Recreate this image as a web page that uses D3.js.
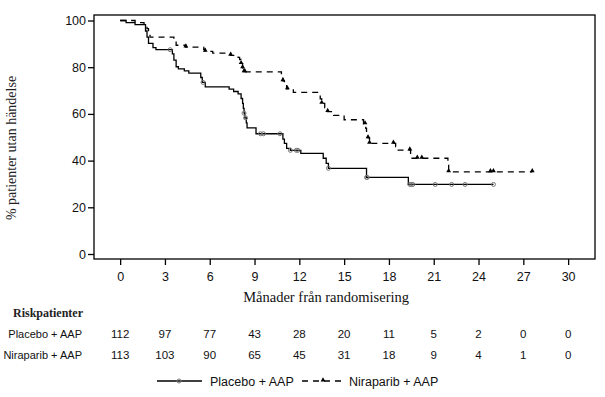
<!DOCTYPE html>
<html><head><meta charset="utf-8">
<script src="https://cdn.jsdelivr.net/npm/d3@7"></script>
<style>body{margin:0;background:#fff}svg{display:block}</style>
</head><body>
<svg id="c" width="605" height="397"></svg>
<script>
const xTicks = [0,3,6,9,12,15,18,21,24,27,30];
const xTickLabels = ["0","3","6","9","12","15","18","21","24","27","30"];
const yTicks = [0,20,40,60,80,100];
const yTickLabels = ["0","20","40","60","80","100"];

const placeboTimes = [0,0.4,1.0,1.7,1.8,1.9,2.2,2.4,3.5,3.6,3.75,3.9,4.3,4.6,5.4,5.5,5.7,7.3,7.6,7.9,8.1,8.2,8.25,8.3,8.35,8.45,8.5,9.1,10.9,11.0,11.15,11.4,12.1,13.6,13.8,13.95,16.5,19.3];
const placeboSurv  = [100,99.1,98.2,95.5,92.9,90.2,88.4,87.5,85.7,83.0,80.2,79.3,78.4,77.5,75.6,73.5,71.6,70.6,69.6,68.6,66.6,64.5,62.4,60.3,58.3,56.2,54.0,51.5,49.2,47.4,45.2,44.4,43.1,41.0,38.8,36.7,32.8,29.8];
const placeboEnd = 25.0;
const placeboCensor = [3.35,5.55,8.3,8.4,9.4,9.6,10.7,11.4,11.8,11.9,13.95,16.5,16.55,19.4,19.5,19.6,21.1,22.2,23.1,25.0];

const niraTimes = [0,1.0,1.6,1.8,1.9,2.0,3.6,3.75,4.4,5.6,5.7,6.2,7.4,7.9,8.0,8.1,8.2,8.3,10.8,10.9,11.0,11.15,11.6,13.3,13.4,13.5,13.7,13.9,14.3,15.0,16.3,16.45,16.5,16.6,16.7,18.45,18.5,19.45,19.55,21.95,22.0];
const niraSurv  = [100,99.1,98.2,96.5,94.7,92.9,91.1,89.4,88.6,87.7,86.8,86.0,85.1,84.2,83.3,81.5,79.7,78.0,76.1,74.2,72.4,70.7,69.2,68.3,66.4,64.5,62.6,61.0,59.4,57.5,55.7,53.8,51.9,49.7,47.4,46.0,44.5,42.7,41.0,38.1,35.2];
const niraEnd = 27.6;
const niraCensor = [4.4,5.7,7.4,8.1,8.2,8.3,8.35,10.9,11.2,13.5,13.9,16.4,16.6,16.7,18.3,19.4,19.9,20.2,22.0,24.8,25.0,27.6];

const riskLabels = ["Placebo + AAP","Niraparib + AAP"];
const riskPlacebo = [112,97,77,43,28,20,11,5,2,0,0];
const riskNira = [113,103,90,65,45,31,18,9,4,1,0];

const svg = d3.select("#c");
const x = d3.scaleLinear().domain([-1.75,31.8]).range([94,595]);
const y = d3.scaleLinear().domain([-2.14,102.36]).range([259,15]);
const sans = "'Liberation Sans', Arial, sans-serif";
const serif = "'Liberation Serif', 'Times New Roman', serif";

// frame
svg.append("rect").attr("x",x.range()[0]).attr("y",y.range()[1])
  .attr("width",x.range()[1]-x.range()[0]).attr("height",y.range()[0]-y.range()[1])
  .attr("fill","none").attr("stroke","#000").attr("stroke-width",1.3);

// axes
const xAxis = svg.append("g").attr("transform",`translate(0,${y.range()[0]})`)
  .call(d3.axisBottom(x).tickValues(xTicks).tickFormat((d,i)=>xTickLabels[i]).tickSize(6).tickSizeOuter(0));
const yAxis = svg.append("g").attr("transform",`translate(${x.range()[0]},0)`)
  .call(d3.axisLeft(y).tickValues(yTicks).tickFormat((d,i)=>yTickLabels[i]).tickSize(6).tickSizeOuter(0));
[xAxis,yAxis].forEach(g=>{
  g.select(".domain").remove();
  g.selectAll(".tick line").attr("stroke","#000").attr("stroke-width",1.3);
  g.selectAll(".tick text").attr("font-family",sans).attr("font-size","12.5px").attr("fill","#111");
});
xAxis.selectAll(".tick text").attr("dy","0.71em").attr("y",13);
yAxis.selectAll(".tick text").attr("x",-8);

// titles
svg.append("text").attr("x",(x(0)+x(30))/2-18).attr("y",302).attr("text-anchor","middle")
  .attr("font-family",serif).attr("font-size","14.5px").attr("fill","#111").text("Månader från randomisering");
svg.append("text").attr("transform","translate(16,148) rotate(-90)").attr("text-anchor","middle")
  .attr("font-family",serif).attr("font-size","14px").attr("fill","#222").text("% patienter utan händelse");

// curves
function stepData(times,surv,end){
  const pts = times.map((t,i)=>[t,surv[i]]);
  pts.push([end,surv[surv.length-1]]);
  return pts;
}
function survAt(times,surv,t){
  let v = surv[0];
  for(let i=0;i<times.length;i++){ if(times[i]<=t) v = surv[i]; }
  return v;
}
const line = d3.line().x(d=>x(d[0])).y(d=>y(d[1])).curve(d3.curveStepAfter);

svg.append("path").datum(stepData(placeboTimes,placeboSurv,placeboEnd))
  .attr("d",line).attr("fill","none").attr("stroke","#000").attr("stroke-width",1.3);
svg.append("path").datum(stepData(niraTimes,niraSurv,niraEnd))
  .attr("d",line).attr("fill","none").attr("stroke","#000").attr("stroke-width",1.3)
  .attr("stroke-dasharray","6,5");

svg.append("g").selectAll("circle").data(placeboCensor).join("circle")
  .attr("cx",d=>x(d)).attr("cy",d=>y(survAt(placeboTimes,placeboSurv,d))).attr("r",2)
  .attr("fill","none").attr("stroke","#777").attr("stroke-width",1);
const tri = d3.symbol().type(d3.symbolTriangle).size(10);
svg.append("g").selectAll("path").data(niraCensor).join("path")
  .attr("transform",d=>`translate(${x(d)},${y(survAt(niraTimes,niraSurv,d))-1})`)
  .attr("d",tri).attr("fill","#000");

// risk table
svg.append("text").attr("x",13).attr("y",317).attr("font-family",serif).attr("font-weight","bold")
  .attr("font-size","12px").attr("fill","#222").text("Riskpatienter");
const rows = [riskPlacebo,riskNira];
const rowY = [338,359];
rows.forEach((vals,r)=>{
  svg.append("text").attr("x",82).attr("y",rowY[r]).attr("text-anchor","end")
    .attr("font-family",sans).attr("font-size","11px").attr("fill","#111").text(riskLabels[r]);
  svg.append("g").selectAll("text").data(vals).join("text")
    .attr("x",(d,i)=>x(xTicks[i])).attr("y",rowY[r]).attr("text-anchor","middle")
    .attr("font-family",sans).attr("font-size","11.5px").attr("fill","#111").text(d=>d);
});

// legend
const lg = svg.append("g");
const ly = 381;
lg.append("line").attr("x1",157).attr("x2",202).attr("y1",ly).attr("y2",ly).attr("stroke","#000").attr("stroke-width",1.3);
lg.append("circle").attr("cx",179).attr("cy",ly).attr("r",2).attr("fill","none").attr("stroke","#777");
lg.append("text").attr("x",210).attr("y",ly+4.5).attr("font-family",sans).attr("font-size","12.5px").attr("fill","#111").text(riskLabels[0]);
lg.append("line").attr("x1",302).attr("x2",344).attr("y1",ly).attr("y2",ly).attr("stroke","#000").attr("stroke-width",1.3).attr("stroke-dasharray","6,5");
lg.append("path").attr("transform",`translate(323,${ly-1})`).attr("d",tri).attr("fill","#000");
lg.append("text").attr("x",349).attr("y",ly+4.5).attr("font-family",sans).attr("font-size","12.5px").attr("fill","#111").text(riskLabels[1]);
</script>
</body></html>
